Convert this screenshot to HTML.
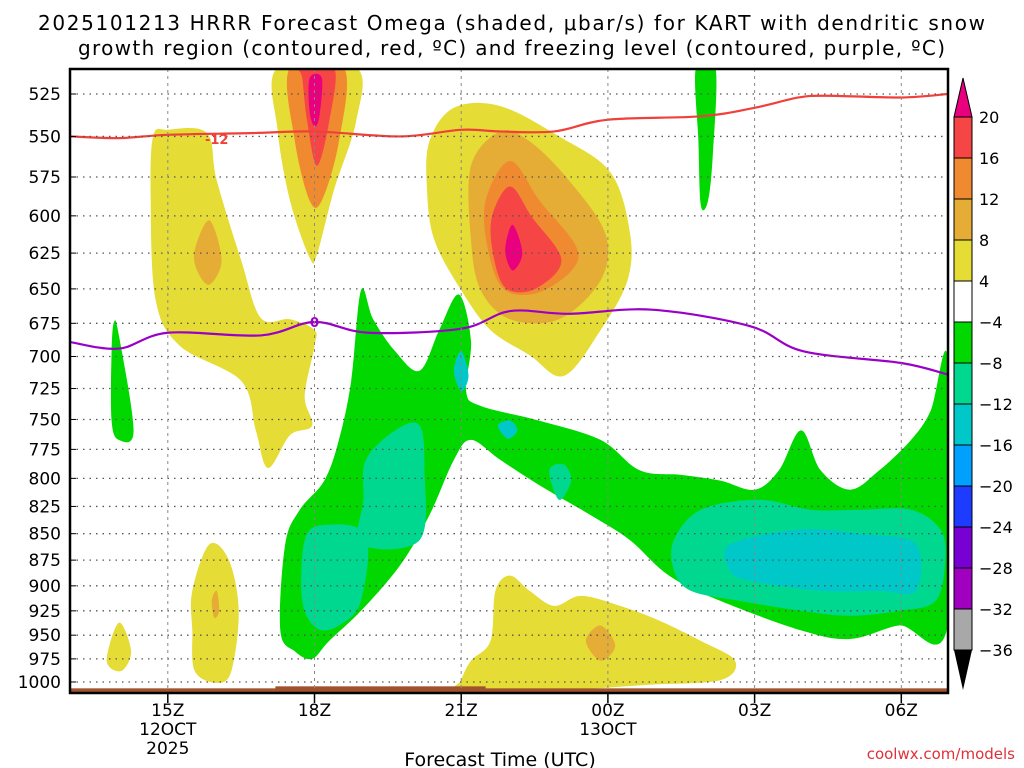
<!DOCTYPE html>
<html><head><meta charset="utf-8"><style>
body{margin:0;background:#fff;width:1024px;height:768px;overflow:hidden}
svg{display:block;font-family:"DejaVu Sans","Liberation Sans",sans-serif}
</style></head><body>
<svg id="chart" width="1024" height="768">
<text x="38" y="30" font-size="20" textLength="947" lengthAdjust="spacing">2025101213 HRRR Forecast Omega (shaded, μbar/s) for KART with dendritic snow</text>
<text x="78" y="55" font-size="20" textLength="867" lengthAdjust="spacing">growth region (contoured, red, ºC) and freezing level (contoured, purple, ºC)</text>
<g id="plot"></g>
<text x="500" y="766" text-anchor="middle" font-size="19">Forecast Time (UTC)</text>
<text x="1015" y="759" text-anchor="end" font-size="15" fill="#e0303a">coolwx.com/models</text>
</svg>
<script>
const hourTicks=[15,18,21,24,27,30];
const hourLabels=['15Z','18Z','21Z','00Z','03Z','06Z'];
const pressTicks=[525,550,575,600,625,650,675,700,725,750,775,800,825,850,875,900,925,950,975,1000];
const cbLevels=['20','16','12','8','4','−4','−8','−12','−16','−20','−24','−28','−32','−36'];
const cbColors=['#f54545','#f08a30','#e5ad35','#e5dc35','#ffffff','#00d800','#00d890','#00c8c8','#00a0ff','#1e3cff','#7800d2','#a000c0','#a8a8a8'];
const redLine=[[13,550],[14,551],[15,549],[16.7,548],[18,547],[19.75,550],[21,546],[21.8,547],[22.9,547],[24,540],[25.9,538],[27,533],[27.9,527],[28.5,526],[30,527],[30.95,525]];
const purpleLine=[[13,689],[14,694],[15,682],[16.9,684],[18,674],[19.1,682],[21,679],[22,666],[23.2,668],[24.9,665],[26.9,677],[28,696],[30,705],[30.95,714]];
const Y1=[[14.7,550],[15.0,546],[15.8,548],[16.0,577],[16.5,630],[16.9,671],[17.5,672],[18.0,680],[18.0,692],[17.8,731],[17.95,755],[17.5,763],[17.05,791],[16.8,759],[16.5,719],[15.25,692],[14.75,658],[14.65,590]];
const Y2=[[17.25,510],[18.85,510],[18.85,541],[18.4,583],[18.05,626],[17.9,628],[17.5,590],[17.25,547]];
const O2=[[17.5,510],[18.6,510],[18.5,553],[18.15,590],[17.9,590],[17.6,553]];
const R2=[[17.7,510],[18.4,510],[18.3,541],[18.05,568],[17.85,541],[17.75,516]];
const M2=[[17.9,516],[18.15,516],[18.1,538],[18.0,544],[17.9,535]];
const O1=[[15.55,623],[15.85,603],[16.1,630],[15.85,647],[15.6,637]];
const Y3=[[20.35,553],[20.85,533],[21.8,532],[23.0,550],[24.05,572],[24.45,611],[24.4,644],[23.85,680],[23.1,715],[22.4,699],[21.6,680],[21.0,651],[20.45,616],[20.3,583]];
const O3=[[21.2,568],[21.8,547],[22.4,553],[23.2,577],[23.95,612],[23.85,644],[23.0,672],[22.0,672],[21.4,651],[21.2,616]];
const R3=[[21.5,590],[22.0,565],[22.6,590],[23.4,626],[22.7,651],[21.9,651],[21.55,623]];
const M3=[[21.9,623],[22.05,606],[22.25,625],[22.05,637]];
const G1=[[25.8,510],[26.2,510],[26.15,559],[26.05,590],[25.9,593],[25.85,553]];
const G2=[[13.9,674],[14.0,684],[14.3,759],[14.0,767],[13.85,751],[13.85,696]];
const G3=[[17.3,945],[17.4,860],[17.7,828],[18.2,802],[18.5,767],[18.75,719],[18.95,651],[19.2,672],[19.65,696],[20.15,711],[20.55,680],[20.95,654],[21.2,688],[21.1,727],[21.4,739],[22.6,751],[23.85,767],[24.65,793],[25.5,797],[26.3,802],[27.0,810],[27.5,793],[27.95,759],[28.35,793],[28.95,810],[29.55,793],[30.2,767],[30.6,743],[30.95,703],[30.95,940],[29.95,940],[28.95,954],[27.95,945],[26.3,915],[25.25,890],[24.45,856],[23.65,833],[22.6,806],[21.8,784],[21.2,767],[20.85,784],[20.35,833],[19.75,880],[18.95,925],[18.3,956],[17.95,975],[17.6,967]];
const T1=[[17.8,856],[18.2,842],[19.05,851],[18.95,915],[18.5,940],[18.05,943],[17.75,915]];
const T2=[[19.05,784],[19.65,759],[20.15,755],[20.25,793],[20.15,856],[18.95,860],[19.0,819]];
const T3=[[20.85,711],[21.0,696],[21.15,715],[21.0,727]];
const T4=[[21.75,755],[22.0,751],[22.15,759],[21.95,766]];
const T5=[[22.8,793],[23.1,788],[23.25,802],[23.0,819]];
const T6=[[25.35,856],[25.9,828],[27.1,819],[28.15,828],[29.15,828],[30.2,828],[30.8,846],[30.9,875],[30.7,915],[29.95,925],[28.95,930],[27.95,925],[26.7,915],[25.7,905],[25.35,885]];
const C1=[[26.5,860],[27.95,846],[29.35,851],[30.3,860],[30.3,905],[29.55,905],[28.35,905],[26.9,895],[26.5,885]];
const Y4=[[21.0,998],[21.2,977],[21.6,956],[21.7,905],[22.0,890],[22.4,905],[22.9,920],[23.45,910],[24.25,920],[25.05,935],[25.9,956],[26.6,977],[26.3,998],[24.85,1003],[23.0,1009],[21.0,1009]];
const O4=[[23.55,956],[23.85,940],[24.15,961],[23.85,977]];
const Y5=[[15.5,905],[15.85,860],[16.25,875],[16.45,925],[16.3,988],[16.0,1001],[15.55,988],[15.5,945]];
const O5=[[15.9,915],[16.0,905],[16.05,925],[15.95,932]];
const Y6=[[13.75,977],[14.0,937],[14.25,967],[14.05,988]];

const X0=70,X1=948,Y0=69,Y1p=693,H0=13,H1=30.95;
function xs(h){return X0+(h-H0)*48.9;}
function ys(p){return 94+Math.log(p/525)*912.5;}
const NS='http://www.w3.org/2000/svg';
const plot=document.getElementById('plot');
function mk(tag,attrs,parent){const e=document.createElementNS(NS,tag);for(const k in attrs)e.setAttribute(k,attrs[k]);(parent||plot).appendChild(e);return e;}
function smooth(pts){const P=pts.map(q=>[xs(q[0]),ys(q[1])]);const n=P.length;let d='M'+P[0][0].toFixed(1)+','+P[0][1].toFixed(1);
for(let i=0;i<n;i++){const p0=P[(i-1+n)%n],p1=P[i],p2=P[(i+1)%n],p3=P[(i+2)%n];
const c1=[p1[0]+(p2[0]-p0[0])/6,p1[1]+(p2[1]-p0[1])/6],c2=[p2[0]-(p3[0]-p1[0])/6,p2[1]-(p3[1]-p1[1])/6];
d+='C'+c1.map(v=>v.toFixed(1))+' '+c2.map(v=>v.toFixed(1))+' '+p2.map(v=>v.toFixed(1));}
return d+'Z';}
function lineD(pts){const P=pts.map(q=>[xs(q[0]),ys(q[1])]);let d='M'+P[0].join(',');for(let i=0;i<P.length-1;i++){const p0=P[Math.max(i-1,0)],p1=P[i],p2=P[i+1],p3=P[Math.min(i+2,P.length-1)];
d+='C'+(p1[0]+(p2[0]-p0[0])/6)+','+(p1[1]+(p2[1]-p0[1])/6)+' '+(p2[0]-(p3[0]-p1[0])/6)+','+(p2[1]-(p3[1]-p1[1])/6)+' '+p2[0]+','+p2[1];}return d;}

const defs=mk('defs',{});const cp=mk('clipPath',{id:'clip'},defs);mk('rect',{x:X0,y:Y0,width:X1-X0,height:Y1p-Y0},cp);
const g=mk('g',{'clip-path':'url(#clip)'});
const fills=[[Y1,cbColors[3],'shade-yellow-left'],[Y2,cbColors[3],'shade-yellow-top'],[O2,cbColors[1],'shade-orange-top'],[R2,cbColors[0],'shade-red-top'],[M2,'#e8007e','shade-magenta-top'],[O1,cbColors[2],'shade-orange-left'],
[Y3,cbColors[3],'shade-yellow-mid'],[O3,cbColors[2],'shade-orange-mid'],[R3,cbColors[1],'shade-orange2-mid'],
[G1,cbColors[5],'shade-green-top'],[G2,cbColors[5],'shade-green-left'],[G3,cbColors[5],'shade-green-main'],
[T1,cbColors[6],'shade-teal-1'],[T2,cbColors[6],'shade-teal-2'],[T3,cbColors[7],'shade-cyan-dot'],[T4,cbColors[7],'shade-cyan-dot2'],[T5,cbColors[6],'shade-teal-3'],[T6,cbColors[6],'shade-teal-right'],[C1,cbColors[7],'shade-cyan-right'],
[Y4,cbColors[3],'shade-yellow-bottom'],[O4,cbColors[2],'shade-orange-bottom'],[Y5,cbColors[3],'shade-yellow-16z'],[O5,cbColors[2],'shade-orange-16z'],[Y6,cbColors[3],'shade-yellow-14z']];
fills.forEach(f=>{const el=mk('path',{d:smooth(f[0]),fill:f[1]},g);

});
const r3=mk('path',{d:smooth(R3.map(q=>[22+(q[0]-22)*0.75,625+(q[1]-620)*0.8])),fill:cbColors[0]},g);


const m3=mk('path',{d:smooth(M3),fill:'#e8007e'},g);


const gr=mk('rect',{x:X0,y:ys(1007),width:X1-X0,height:Y1p-ys(1007),fill:'#a0522d'},g);


const gr2=mk('rect',{x:xs(17.2),y:ys(1007)-2,width:xs(21.5)-xs(17.2),height:4,fill:'#a0522d'},g);


pressTicks.forEach(p=>{const l=mk('line',{x1:X0,x2:X1,y1:ys(p),y2:ys(p),stroke:'#555','stroke-width':1.3,'stroke-dasharray':'1.5,5'});

});
hourTicks.forEach(h=>{const l=mk('line',{x1:xs(h),x2:xs(h),y1:Y0,y2:Y1p,stroke:'#888','stroke-width':1,'stroke-dasharray':'3,4'});

});
const rl=mk('path',{d:lineD(redLine),fill:'none',stroke:'#f0403a','stroke-width':2.2},g);


const pl=mk('path',{d:lineD(purpleLine),fill:'none',stroke:'#9a00c8','stroke-width':2.2},g);


const rlab=mk('text',{x:xs(16),y:ys(552)+4,'font-size':13,'font-weight':'bold',fill:'#f0403a','text-anchor':'middle'});rlab.textContent='-12';


const plab=mk('text',{x:xs(18),y:ys(674)+5,'font-size':13,'font-weight':'bold',fill:'#9a00c8','text-anchor':'middle'});plab.textContent='0';


const fr=mk('rect',{x:X0,y:Y0,width:X1-X0,height:Y1p-Y0,fill:'none',stroke:'#000','stroke-width':2.5});


pressTicks.forEach(p=>{const t=mk('text',{x:61,y:ys(p)+6,'font-size':17,'text-anchor':'end'});t.textContent=p;


const tk=mk('line',{x1:X0,x2:X0+6,y1:ys(p),y2:ys(p),stroke:'#000'});

});
hourTicks.forEach((h,i)=>{const tk=mk('line',{x1:xs(h),x2:xs(h),y1:Y1p,y2:Y1p+10,stroke:'#000','stroke-width':1.5});


const t=mk('text',{x:xs(h),y:716,'font-size':17,'text-anchor':'middle'});t.textContent=hourLabels[i];

});
[['12OCT',15,735],['2025',15,754],['13OCT',24,735]].forEach(a=>{const t=mk('text',{x:xs(a[1]),y:a[2],'font-size':17,'text-anchor':'middle'});t.textContent=a[0];

});
const cbx=954,cbw=18,cbTop=117,step=41;
const cb=mk('g',{});

mk('path',{d:`M${cbx},${cbTop}L${cbx+cbw/2},78L${cbx+cbw},${cbTop}Z`,fill:'#e8007e',stroke:'#000'},cb);
cbColors.forEach((c,i)=>{const r=mk('rect',{x:cbx,y:cbTop+i*step,width:cbw,height:step,fill:c,stroke:'#000','stroke-width':1},cb);

});
mk('path',{d:`M${cbx},${cbTop+13*step}L${cbx+cbw/2},${cbTop+13*step+40}L${cbx+cbw},${cbTop+13*step}Z`,fill:'#000'},cb);
cbLevels.forEach((l,i)=>{const t=mk('text',{x:979,y:cbTop+i*step+6,'font-size':16},cb);t.textContent=l;

});
</script>
</body></html>
